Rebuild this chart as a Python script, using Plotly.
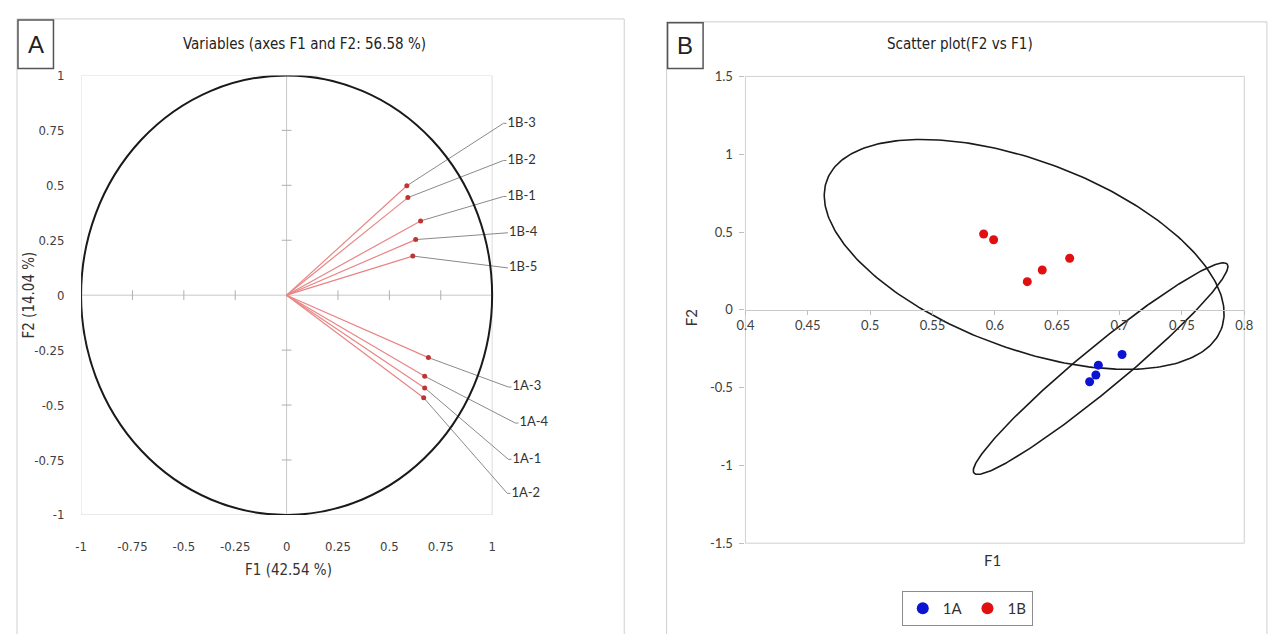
import numpy as np
import plotly.graph_objects as go

# ---------------- data ----------------
# Panel A: variable loadings on F1/F2
var_names = ["1B-3", "1B-2", "1B-1", "1B-4", "1B-5", "1A-3", "1A-4", "1A-1", "1A-2"]
var_f1 = [0.585, 0.590, 0.652, 0.628, 0.614, 0.690, 0.672, 0.672, 0.667]
var_f2 = [0.498, 0.444, 0.338, 0.253, 0.178, -0.284, -0.369, -0.422, -0.467]
# label anchor positions (layout)
label_x = [1.055, 1.055, 1.055, 1.062, 1.062, 1.079, 1.113, 1.079, 1.074]
label_y = [0.782, 0.613, 0.449, 0.284, 0.124, -0.418, -0.582, -0.747, -0.902]

tickA = [-1, -0.75, -0.5, -0.25, 0, 0.25, 0.5, 0.75, 1]
tickA_text = ["-1", "-0.75", "-0.5", "-0.25", "0", "0.25", "0.5", "0.75", "1"]

# Panel B: scatter F2 vs F1
g1a_f1 = [0.702, 0.683, 0.681, 0.676]
g1a_f2 = [-0.2875, -0.356, -0.419, -0.4625]
g1b_f1 = [0.591, 0.599, 0.626, 0.638, 0.660]
g1b_f2 = [0.4875, 0.450, 0.181, 0.256, 0.331]

# confidence ellipses: center, major half-vector, minor half-vector (data units)
ell_1b_center = [0.6235, 0.356]
ell_1b_major = [0.158, -0.481]
ell_1b_minor = [-0.0272, -0.561]
ell_1a_center = [0.6848, -0.378]
ell_1a_major = [0.1015, 0.672]
ell_1a_minor = [0.0112, -0.105]

tickBx = [0.4, 0.45, 0.5, 0.55, 0.6, 0.65, 0.7, 0.75, 0.8]
tickBx_text = ["0.4", "0.45", "0.5", "0.55", "0.6", "0.65", "0.7", "0.75", "0.8"]
tickBy = [-1.5, -1, -0.5, 0, 0.5, 1, 1.5]
tickBy_text = ["-1.5", "-1", "-0.5", "0", "0.5", "1", "1.5"]

# ---------------- figure ----------------
# page has the default 8px body margin: figure sized so the page is exactly 1279x642
M = 8
W, H = 1279 - 2 * M, 642 - 2 * M
NARROW = "Liberation Sans Narrow, DejaVu Sans Condensed, Arial Narrow, sans-serif"
CAL = "Lato, Open Sans, sans-serif"


def px(x):
    return (x - M) / W


def py(y):
    return 1 - (y - M) / H


fig = go.Figure()

# --- Panel A ---
# tick marks on zero lines
fig.add_trace(go.Scatter(
    x=[0] * 8, y=[v for v in tickA if v != 0], mode="markers",
    marker=dict(symbol="line-ew", size=7, line=dict(color="#b0b0b0", width=1)),
    hoverinfo="skip", showlegend=False, xaxis="x", yaxis="y"))
fig.add_trace(go.Scatter(
    x=[v for v in tickA if v != 0], y=[0] * 8, mode="markers",
    marker=dict(symbol="line-ns", size=7, line=dict(color="#b0b0b0", width=1)),
    hoverinfo="skip", showlegend=False, xaxis="x", yaxis="y"))

# arrows from origin
for xv, yv in zip(var_f1, var_f2):
    fig.add_trace(go.Scatter(
        x=[0, xv], y=[0, yv], mode="lines",
        line=dict(color="#e98585", width=1.2),
        hoverinfo="skip", showlegend=False, xaxis="x", yaxis="y"))
# leader lines
for xv, yv, lx, ly in zip(var_f1, var_f2, label_x, label_y):
    fig.add_trace(go.Scatter(
        x=[xv, lx, lx + 0.015], y=[yv, ly, ly], mode="lines",
        line=dict(color="#8a8a8a", width=1),
        hoverinfo="skip", showlegend=False, xaxis="x", yaxis="y"))
# tips
fig.add_trace(go.Scatter(
    x=var_f1, y=var_f2, mode="markers",
    marker=dict(color="#c03434", size=5),
    hoverinfo="skip", showlegend=False, xaxis="x", yaxis="y"))
# labels
fig.add_trace(go.Scatter(
    x=[lx + 0.02 for lx in label_x], y=label_y, mode="text", text=var_names,
    textposition="middle right",
    textfont=dict(family=CAL, size=13, color="#333333"),
    hoverinfo="skip", showlegend=False, xaxis="x", yaxis="y", cliponaxis=False))

# --- Panel B ---
t = np.linspace(0, 2 * np.pi, 300)


def ellipse(c, Mv, mv):
    ex = c[0] + Mv[0] * np.cos(t) + mv[0] * np.sin(t)
    ey = c[1] + Mv[1] * np.cos(t) + mv[1] * np.sin(t)
    return ex, ey


for c, Mv, mv in [(ell_1b_center, ell_1b_major, ell_1b_minor),
                  (ell_1a_center, ell_1a_major, ell_1a_minor)]:
    ex, ey = ellipse(c, Mv, mv)
    fig.add_trace(go.Scatter(
        x=ex, y=ey, mode="lines", line=dict(color="#1a1a1a", width=1.6),
        hoverinfo="skip", showlegend=False, xaxis="x2", yaxis="y2"))

fig.add_trace(go.Scatter(
    x=g1a_f1, y=g1a_f2, mode="markers", name="1A",
    marker=dict(color="#0a14d2", size=9), xaxis="x2", yaxis="y2"))
fig.add_trace(go.Scatter(
    x=g1b_f1, y=g1b_f2, mode="markers", name="1B",
    marker=dict(color="#e01010", size=9), xaxis="x2", yaxis="y2"))

# ---------------- layout ----------------
A_x0, A_unit = 73, 208.5
A_xmax = 1.35
xA_dom = [px(A_x0), px(A_x0 + (A_xmax + 1) * A_unit)]
yA_dom = [py(520), py(69)]

xB_dom = [px(747), px(1253)]
yB_dom = [py(549), py(70)]

tickfontA = dict(family=NARROW, size=13, color="#404040")
tickfontB = dict(family=CAL, size=13, color="#404040")

fig.update_layout(
    width=W, height=H, margin=dict(l=0, r=0, t=0, b=0),
    paper_bgcolor="white", plot_bgcolor="rgba(0,0,0,0)",
    xaxis=dict(domain=xA_dom, range=[-1, A_xmax], anchor="y",
               tickvals=tickA, ticktext=tickA_text, ticks="outside", ticklen=19,
               tickcolor="rgba(0,0,0,0)", showgrid=False, zeroline=False,
               showline=False, tickfont=tickfontA),
    yaxis=dict(domain=yA_dom, range=[-1, 1], anchor="x",
               tickvals=tickA, ticktext=tickA_text, ticks="outside", ticklen=13,
               tickcolor="rgba(0,0,0,0)", showgrid=False, zeroline=False,
               showline=False, tickfont=tickfontA),
    xaxis2=dict(domain=xB_dom, range=[0.4, 0.8], anchor="free",
                position=(yB_dom[0] + yB_dom[1]) / 2,
                tickvals=tickBx, ticktext=tickBx_text, ticks="outside", ticklen=4,
                tickcolor="#bfbfbf", showgrid=False, zeroline=False,
                showline=True, linecolor="#c8c8c8", linewidth=1, tickfont=tickfontB),
    yaxis2=dict(domain=yB_dom, range=[-1.5, 1.5], anchor="x2",
                tickvals=tickBy, ticktext=tickBy_text, ticks="outside", ticklen=5,
                tickcolor="#bfbfbf", showgrid=False, zeroline=False,
                showline=False, tickfont=tickfontB, ticklabelstandoff=4),
    legend=dict(orientation="h", x=px(972), xanchor="center", y=py(616), yanchor="middle",
                bordercolor="#8c8c8c", borderwidth=1, bgcolor="white",
                font=dict(family=CAL, size=15, color="#333333"),
                itemwidth=30, tracegroupgap=0, itemsizing="constant"),
    showlegend=True,
)

shapes = [
    # panel A outer box
    dict(type="rect", xref="paper", yref="paper", x0=px(8), x1=px(624), y0=py(700), y1=py(11),
         line=dict(color="#cfcfcf", width=1)),
    # panel B outer box
    dict(type="rect", xref="paper", yref="paper", x0=px(667), x1=px(1276), y0=py(700), y1=py(14),
         line=dict(color="#cfcfcf", width=1)),
    # label boxes
    dict(type="rect", xref="paper", yref="paper", x0=px(9), x1=px(45), y0=py(62), y1=py(12),
         line=dict(color="#555555", width=1.5)),
    dict(type="rect", xref="paper", yref="paper", x0=px(668), x1=px(704), y0=py(62), y1=py(15),
         line=dict(color="#555555", width=1.5)),
    # panel A frame, zero lines, circle
    dict(type="rect", xref="x", yref="y", x0=-1, x1=1, y0=-1, y1=1,
         line=dict(color="#dcdcdc", width=1), layer="below"),
    dict(type="line", xref="x", yref="y", x0=-1, x1=1, y0=0, y1=0,
         line=dict(color="#c8c8c8", width=1), layer="below"),
    dict(type="line", xref="x", yref="y", x0=0, x1=0, y0=-1, y1=1,
         line=dict(color="#c8c8c8", width=1), layer="below"),
    dict(type="circle", xref="x", yref="y", x0=-1, x1=1, y0=-1, y1=1,
         line=dict(color="#1a1a1a", width=2)),
    # panel B frame
    dict(type="rect", xref="x2 domain", yref="y2 domain", x0=0, x1=1, y0=0, y1=1,
         line=dict(color="#d0d0d0", width=1), layer="below"),
]
fig.update_layout(shapes=shapes)

ann = [
    dict(text="A", x=px(27), y=py(37), font=dict(family="Liberation Sans, Arial", size=24, color="#222")),
    dict(text="B", x=px(686), y=py(38), font=dict(family="Liberation Sans, Arial", size=24, color="#222")),
    dict(text="Variables (axes F1 and F2: 56.58 %)", x=px(300), y=py(37),
         font=dict(family=NARROW, size=15, color="#222")),
    dict(text="Scatter plot(F2 vs F1)", x=px(965), y=py(37),
         font=dict(family=NARROW, size=15, color="#222")),
    dict(text="F1 (42.54 %)", x=px(283), y=py(577),
         font=dict(family=NARROW, size=15, color="#333")),
    dict(text="F2 (14.04 %)", x=px(20), y=py(294), textangle=-90,
         font=dict(family=NARROW, size=15, color="#333")),
    dict(text="F1", x=px(998), y=py(566),
         font=dict(family=CAL, size=15, color="#333")),
    dict(text="F2", x=px(692), y=py(318), textangle=-90,
         font=dict(family=CAL, size=15, color="#333")),
]
for a in ann:
    a.update(xref="paper", yref="paper", showarrow=False, xanchor="center", yanchor="middle")
fig.update_layout(annotations=ann)

fig.write_html("out.html", config={"displayModeBar": False})
